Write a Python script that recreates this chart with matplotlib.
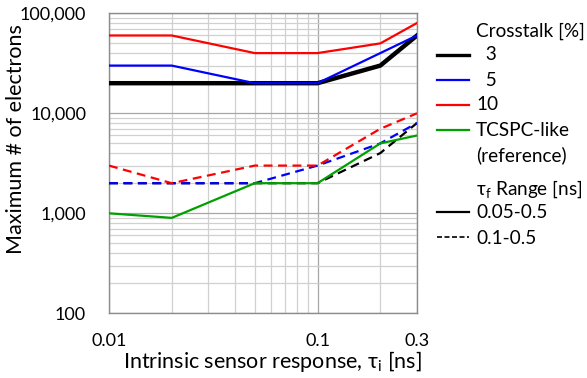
import matplotlib
matplotlib.use("Agg")
import matplotlib.pyplot as plt
from matplotlib.lines import Line2D
from matplotlib.ticker import FixedLocator, FixedFormatter, LogLocator, NullFormatter

plt.rcParams['font.family'] = ['Lato', 'DejaVu Sans']

tau_i = [0.01, 0.02, 0.05, 0.1, 0.2, 0.3]

# tau_f range 0.05-0.5 (solid)
xt3_solid = [20000, 20000, 20000, 20000, 30000, 60000]
xt5_solid = [30000, 30000, 20000, 20000, 40000, 60000]
xt10_solid = [60000, 60000, 40000, 40000, 50000, 80000]
# tau_f range 0.1-0.5 (dashed)
xt3_dash = [2000, 2000, 2000, 2000, 4000, 8000]
xt5_dash = [2000, 2000, 2000, 3000, 5000, 8000]
xt10_dash = [3000, 2000, 3000, 3000, 7000, 10000]
tcspc = [1000, 900, 2000, 2000, 5000, 6000]

crosstalk_labels = ["  3", "  5", "10", "TCSPC-like\n(reference)"]
range_labels = ["0.05-0.5", "0.1-0.5"]
colors = ["#000000", "#0000ff", "#ff0000", "#00a000"]

W, H = 587, 378
fig = plt.figure(figsize=(W / 100, H / 100), dpi=100)
ax = fig.add_axes([109 / W, 1 - 313.3 / H, (417 - 109) / W, 300 / H])

dash = (0, (4, 2.5))
ax.plot(tau_i, xt3_dash, color=colors[0], lw=1.6, ls=dash, zorder=3)
ax.plot(tau_i, xt5_dash, color=colors[1], lw=1.6, ls=dash, zorder=4)
ax.plot(tau_i, xt10_dash, color=colors[2], lw=1.6, ls=dash, zorder=4)
ax.plot(tau_i, tcspc, color=colors[3], lw=1.6, zorder=5)
ax.plot(tau_i, xt3_solid, color=colors[0], lw=3.2, zorder=3)
ax.plot(tau_i, xt5_solid, color=colors[1], lw=1.6, zorder=4)
ax.plot(tau_i, xt10_solid, color=colors[2], lw=1.6, zorder=4)

ax.set_xscale('log')
ax.set_yscale('log')
ax.set_xlim(0.01, 0.3)
ax.set_ylim(100, 100000)

ax.xaxis.set_major_locator(FixedLocator([0.01, 0.1, 0.3]))
ax.xaxis.set_major_formatter(FixedFormatter(["0.01", "0.1", "0.3"]))
ax.xaxis.set_minor_locator(LogLocator(base=10, subs=range(2, 10)))
ax.xaxis.set_minor_formatter(NullFormatter())
ax.yaxis.set_major_locator(FixedLocator([100, 1000, 10000, 100000]))
ax.yaxis.set_major_formatter(FixedFormatter(["100", "1,000", "10,000", "100,000"]))
ax.yaxis.set_minor_locator(LogLocator(base=10, subs=range(2, 10)))
ax.yaxis.set_minor_formatter(NullFormatter())

ax.grid(True, which='major', color='#a6a6a6', lw=0.9)
ax.grid(True, which='minor', color='#d0d0d0', lw=0.9)
ax.set_axisbelow(True)
for s in ax.spines.values():
    s.set_color('#8c8c8c')
    s.set_linewidth(1.0)
ax.tick_params(which='both', length=0, labelsize=13, colors='#000000')
ax.tick_params(axis='x', pad=14)
ax.tick_params(axis='y', pad=16.5)

ax.set_xlabel("Intrinsic sensor response, τ$_\\mathregular{i}$ [ns]", fontsize=15.5, va='center')
ax.set_ylabel("Maximum # of electrons", fontsize=15.5, va='center')
ax.xaxis.set_label_coords(0.529, -0.159)
ax.yaxis.set_label_coords(-0.302, 0.581)

# Manual legend in figure pixel coords
def fx(px):
    return px / W

def fy(py):
    return 1 - py / H

fs = 13.7
fig.text(fx(476), fy(31), "Crosstalk [%]", fontsize=fs, va='center', ha='left')
rows = [55, 80, 105, 130]
for lab, c, y, lw in zip(crosstalk_labels, colors, rows, [2.4, 1.6, 1.6, 1.6]):
    fig.add_artist(Line2D([fx(437), fx(469)], [fy(y), fy(y)], color=c, lw=lw))
    if "\n" in lab:
        a, b = lab.split("\n")
        fig.text(fx(476), fy(y), a, fontsize=fs, va='center', ha='left')
        fig.text(fx(476), fy(y + 25), b, fontsize=fs, va='center', ha='left')
    else:
        fig.text(fx(476), fy(y), lab, fontsize=fs, va='center', ha='left')

fig.text(fx(476), fy(189), "τ$_\\mathregular{f}$ Range [ns]", fontsize=fs, va='center', ha='left')
fig.add_artist(Line2D([fx(437), fx(469)], [fy(212), fy(212)], color='black', lw=1.6))
fig.text(fx(476), fy(213), range_labels[0], fontsize=fs, va='center', ha='left')
fig.add_artist(Line2D([fx(437), fx(469)], [fy(237), fy(237)], color='black', lw=1.2, ls=(0, (3, 1.5))))
fig.text(fx(476), fy(238), range_labels[1], fontsize=fs, va='center', ha='left')

fig.savefig("out.png", dpi=100)
